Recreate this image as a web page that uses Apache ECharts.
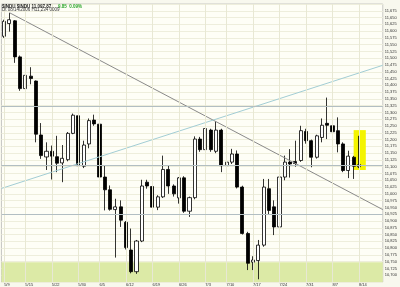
<!DOCTYPE html>
<html><head><meta charset="utf-8">
<script src="https://cdn.jsdelivr.net/npm/echarts/dist/echarts.min.js"></script>
<style>html,body{margin:0;padding:0;background:#F8F8EE;}#c{width:400px;height:287px;}</style>
</head><body><div id="c"></div>
<script>
// ---- data ----
const dates = ['5/9','5/10','5/11','5/12','5/15','5/16','5/17','5/18','5/19','5/22','5/23','5/24','5/25','5/26',
 '5/30','5/31','6/1','6/2','6/5','6/6','6/7','6/8','6/9','6/12','6/13','6/14','6/15','6/16',
 '6/19','6/20','6/21','6/22','6/23','6/26','6/27','6/28','6/29','6/30','7/3','7/5','7/6','7/7',
 '7/10','7/11','7/12','7/13','7/14','7/17','7/18','7/19','7/20','7/21','7/24','7/25','7/26','7/27','7/28',
 '7/31','8/1','8/2','8/3','8/4','8/7','8/8','8/9','8/10','8/11','8/14'];
const opens  = [11581,11628,11638,11505,11388,11434,11416,11217,11136,11157,11137,11114,11126,11223,
 11288,11102,11184,11272,11257,11062,11015,10942,10952,10895,10793,10713,10826,11043,
 11027,10951,10989,11090,11029,10985,11059,10936,10986,11202,11163,11235,11157,11235,
 11104,11117,11147,11025,10854,10748,10754,10811,11019,10952,10878,11062,11117,11119,11123,
 11230,11196,11135,11208,11260,11251,11233,11184,11086,11135,11100];
const closes = [11636,11642,11505,11388,11437,11425,11220,11141,11157,11139,11113,11131,11223,11290,
 11104,11180,11270,11258,11062,11015,10943,10952,10903,10802,10713,10826,11029,11029,
 10951,10989,11090,11029,11000,11059,10936,10986,11202,11163,11241,11163,11235,11104,
 11117,11147,11025,10854,10744,10756,10811,11025,10939,10878,11062,11117,11110,11112,11233,
 11196,11135,11214,11253,11253,11229,11184,11086,11139,11102,11108];
const lows   = [11575,11598,11483,11380,11343,11404,11190,11129,11088,11053,11080,11043,11120,11220,
 11100,11095,11168,11251,11055,10939,10938,10765,10878,10795,10707,10705,10822,11019,
 10921,10940,10985,11000,10990,10964,10930,10915,10980,11155,11160,11155,11150,11080,
 11086,11110,11020,10850,10719,10719,10685,10805,10925,10848,10870,11050,11060,11100,11118,
 11185,11098,11130,11190,11202,11200,11153,11080,11058,11055,11095];
const highs  = [11642,11667,11641,11510,11442,11467,11418,11261,11190,11178,11214,11180,11228,11296,
 11290,11196,11278,11292,11262,11104,11031,10982,10976,10900,10872,10830,11052,11052,
 11052,10995,11141,11104,11035,11062,11065,10990,11212,11210,11251,11240,11268,11240,
 11166,11166,11160,11030,10860,10770,10830,11055,11055,10976,11074,11141,11165,11196,11251,
 11240,11200,11218,11278,11355,11262,11282,11190,11159,11140,11214];
const xTickLabels = ['5/9','5/15','5/22','5/30','6/5','6/12','6/19','6/26','7/3','7/10','7/17','7/24','7/31','8/7','8/14'];
const levels = [11323, 11106, 10924];           // horizontal support / resistance lines
const downTrend = [[1, 11668], [71.5, 10942]];  // [index, value]
const upTrend   = [[-0.5, 11020], [71.5, 11474]];
const zoneLow   = [10675, 10748];
const highlight = [[66.0, 11235], [68.3, 11088]];
const headerMain = '$INDU $INDU 11,097.87';
const headerChange = '9.85  0.09%';
const headerSub = 'Dt 08/14/2006 H11,234 0009';

// ---- chart ----
const PAD = 4;
const cats = dates.concat(Array.from({length: PAD}, (_, k) => ' '.repeat(k + 1)));
const candles = dates.map((d, i) => [opens[i], closes[i], lows[i], highs[i]]);
const FONT = 'Liberation Sans';

const chart = echarts.init(document.getElementById('c'), null, {renderer: 'canvas'});
chart.setOption({
  animation: false,
  backgroundColor: '#F8F8EE',
  grid: {left: 1.5, right: 17, top: 4, bottom: 4, show: true, backgroundColor: '#FEFEF6', borderColor: '#A8A8A8', borderWidth: 0.6},
  xAxis: [
    {type: 'category', data: cats, boundaryGap: true,
     axisLine: {show: false}, axisTick: {show: false}, splitLine: {show: false},
     axisLabel: {interval: (idx, val) => xTickLabels.includes(val), fontSize: 4, color: '#333', margin: 1,
                 align: 'left', fontFamily: FONT}},
    {type: 'value', min: -0.5, max: 71.5, show: false}
  ],
  yAxis: {type: 'value', position: 'right', min: 10675, max: 11700, interval: 25, scale: true,
    axisLine: {show: false}, axisTick: {show: false},
    splitLine: {lineStyle: {color: '#EEEEDC', width: 1}},
    axisLabel: {fontSize: 4, color: '#333', margin: 2, fontFamily: FONT,
      formatter: v => (v < 10700 || v > 11675) ? '' : v.toLocaleString('en-US')}},
  series: [
    {type: 'candlestick', name: '$INDU', data: candles, z: 3, barWidth: 3.6,
     itemStyle: {color: '#FFFFFF', color0: '#000000', borderColor: '#000000', borderColor0: '#000000', borderWidth: 0.8},
     markArea: {silent: true, itemStyle: {color: '#DCEAA6'},
       data: [[{yAxis: zoneLow[0]}, {yAxis: zoneLow[1]}]]},
     markLine: {silent: true, symbol: 'none', label: {show: false}, animation: false,
       data: xTickLabels.map(d => ({xAxis: d, lineStyle: {color: '#E8E8D4', width: 1, type: 'solid'}}))
         .concat(levels.map(v => ({yAxis: v, lineStyle: {color: '#B2BEC2', width: 1, type: 'solid'}})))}
    },
    {type: 'line', name: 'highlight', xAxisIndex: 1, data: [[67, 11100]], symbol: 'none', z: 2,
     lineStyle: {opacity: 0},
     markArea: {silent: true, itemStyle: {color: '#F4F400'},
       data: [[{xAxis: highlight[0][0], yAxis: highlight[0][1]}, {xAxis: highlight[1][0], yAxis: highlight[1][1]}]]}},
    {type: 'line', name: 'down', xAxisIndex: 1, data: downTrend, symbol: 'none', z: 4,
     lineStyle: {color: '#8A8A8A', width: 1}},
    {type: 'line', name: 'up', xAxisIndex: 1, data: upTrend, symbol: 'none', z: 4,
     lineStyle: {color: '#A2CDD4', width: 1}}
  ],
  graphic: [
    {type: 'text', left: 2, top: 1, z: 10, style: {
      text: '{b|' + headerMain + '}  {g|' + headerChange + '}',
      rich: {b: {fontSize: 4.5, fontWeight: 'bold', fill: '#222', fontFamily: FONT},
             g: {fontSize: 4.5, fontWeight: 'bold', fill: '#2AA52A', fontFamily: FONT}}}},
    {type: 'text', left: 2, top: 7, z: 10, style: {text: headerSub, fontSize: 4.5, fill: '#333', fontFamily: FONT}}
  ]
});
</script></body></html>
